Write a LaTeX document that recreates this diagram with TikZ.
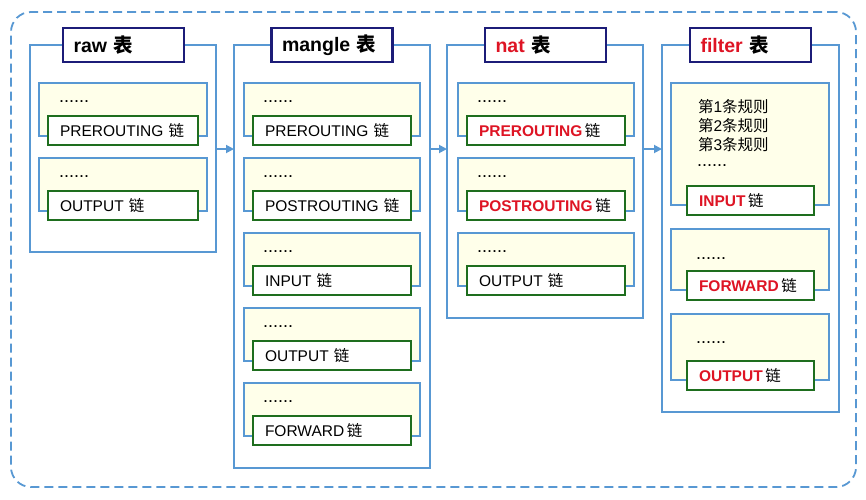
\documentclass[tikz,border=0pt]{standalone}
\usepackage{fontspec}
\setmainfont{Liberation Sans}
\newfontfamily\cjk{Noto Sans CJK SC}
\usetikzlibrary{arrows.meta}
\definecolor{lineblue}{RGB}{88,152,211}
\definecolor{titlenavy}{RGB}{28,28,120}
\definecolor{chaingreen}{RGB}{30,110,30}
\definecolor{rulefill}{RGB}{255,255,234}
\definecolor{hotred}{RGB}{222,20,36}
\newcommand\biao{{\cjk 表}}
\newcommand\lian{{\cjk 链}}
\newcommand\hot[1]{\textcolor{hotred}{\bfseries #1}}

\begin{document}
\begin{tikzpicture}[x=1pt, y=-1pt,
    every node/.append style={inner sep=0pt, outer sep=0pt},
    table/.style={draw=lineblue, line width=1.8pt, anchor=north west},
    title/.style={draw=titlenavy, fill=white, line width=2.2pt, minimum width=121pt, minimum height=34pt,
      text width=100pt, inner xsep=10.5pt, align=left, font=\fontsize{19.5}{22}\selectfont\bfseries},
    rule/.style={draw=lineblue, fill=rulefill, line width=1.8pt, anchor=north west},
    chain/.style={draw=chaingreen, fill=white, line width=2.2pt, minimum height=29pt, inner xsep=12pt,
      align=left, anchor=north west, font=\fontsize{15.5}{18}\selectfont},
    dots/.style={anchor=base west, font=\fontsize{15.5}{18}\selectfont},
    flow/.style={draw=lineblue, line width=1.8pt, -{Triangle[length=8pt,width=8pt]}}]
  \useasboundingbox (0,0) rectangle (866,499);
  \node[draw=lineblue, line width=1.8pt, dash pattern=on 9pt off 5pt, rounded corners=20pt,
    minimum width=845pt, minimum height=475pt, anchor=north west] (frame) at (11,12) {};

  % raw
  \node[table, minimum width=186pt, minimum height=207pt] (raw) at (30,45) {};
  \foreach \y/\ch [count=\i] in {83/PREROUTING \lian, 158/OUTPUT \lian} {
    \node[rule, minimum width=168pt, minimum height=53pt] (raw-r\i) at (39,\y) {};
    \node[dots, font=\fontsize{18}{18}\selectfont] (raw-d\i) at ([xshift=20pt, yshift=-19pt]raw-r\i.north west) {......};
    \node[chain, text width=126pt] (raw-c\i) at ([xshift=9pt, yshift=-33pt]raw-r\i.north west) {\mbox{\ch}};
  }
  \node[title] (raw-t) at (123.5,45) {raw \biao};

  % mangle
  \node[table, minimum width=196pt, minimum height=423pt] (mangle) at (234,45) {};
  \foreach \y/\ch [count=\i] in {83/PREROUTING \lian, 158/POSTROUTING \lian, 233/INPUT \lian,
      308/OUTPUT \lian, 383/FORWARD\,\lian} {
    \node[rule, minimum width=176pt, minimum height=53pt] (mangle-r\i) at (244,\y) {};
    \node[dots, font=\fontsize{18}{18}\selectfont] (mangle-d\i) at ([xshift=19pt, yshift=-19pt]mangle-r\i.north west) {......};
    \node[chain, text width=134pt] (mangle-c\i) at ([xshift=9pt, yshift=-33pt]mangle-r\i.north west) {\mbox{\ch}};
  }
  \node[title] (mangle-t) at (332,45) {mangle \biao};

  % nat
  \node[table, minimum width=196pt, minimum height=273pt] (nat) at (447,45) {};
  \foreach \y/\ch [count=\i] in {83/\hot{PREROUTING}\,\lian, 158/\hot{POSTROUTING}\,\lian, 233/OUTPUT \lian} {
    \node[rule, minimum width=176pt, minimum height=53pt] (nat-r\i) at (458,\y) {};
    \node[dots, font=\fontsize{18}{18}\selectfont] (nat-d\i) at ([xshift=19pt, yshift=-19pt]nat-r\i.north west) {......};
    \node[chain, text width=134pt] (nat-c\i) at ([xshift=9pt, yshift=-33pt]nat-r\i.north west) {\mbox{\ch}};
  }
  \node[title] (nat-t) at (545.5,45) {\textcolor{hotred}{nat} \biao};

  % filter
  \node[table, minimum width=177pt, minimum height=367pt] (filter) at (662,45) {};
  \node[rule, minimum width=158pt, minimum height=122pt] (filter-r1) at (671,83) {};
  \foreach \n/\y in {1/112,2/131,3/150}
    \node[dots] (filter-l\n) at (698,\y) {{\cjk 第}\n{\cjk 条规则}};
  \node[dots, font=\fontsize{18}{18}\selectfont] (filter-d1) at (697,166) {......};
  \node[chain, text width=103pt] (filter-c1) at (687,186) {\hot{INPUT}\,\lian};
  \node[rule, minimum width=158pt, minimum height=61pt] (filter-r2) at (671,229) {};
  \node[dots, font=\fontsize{18}{18}\selectfont] (filter-d2) at (696,259) {......};
  \node[chain, text width=103pt] (filter-c2) at (687,271) {\hot{FORWARD}\,\lian};
  \node[rule, minimum width=158pt, minimum height=66pt] (filter-r3) at (671,314) {};
  \node[dots, font=\fontsize{18}{18}\selectfont] (filter-d3) at (696,343) {......};
  \node[chain, text width=103pt] (filter-c3) at (687,361) {\hot{OUTPUT}\,\lian};
  \node[title] (filter-t) at (750.5,45) {\textcolor{hotred}{filter} \biao};

  \coordinate (lvl) at (0,149);
  \draw[flow] (raw.east |- lvl) -- (mangle.west |- lvl);
  \draw[flow] (mangle.east |- lvl) -- (nat.west |- lvl);
  \draw[flow] (nat.east |- lvl) -- (filter.west |- lvl);
\end{tikzpicture}
\end{document}
